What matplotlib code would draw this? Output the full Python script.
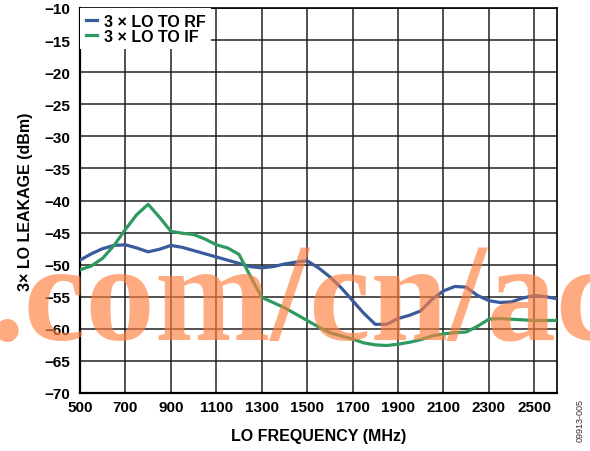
import matplotlib.pyplot as plt

# LO frequency (MHz), read every 50 MHz
freq = [500, 550, 600, 650, 700, 750, 800, 850, 900, 950, 1000, 1050, 1100, 1150,
        1200, 1250, 1300, 1350, 1400, 1450, 1500, 1550, 1600, 1650, 1700, 1750,
        1800, 1850, 1900, 1950, 2000, 2050, 2100, 2150, 2200, 2250, 2300, 2350,
        2400, 2450, 2500, 2550, 2600]

lo_to_rf = [-49.3, -48.3, -47.5, -47.0, -46.9, -47.4, -48.0, -47.6, -47.0, -47.3,
            -47.8, -48.3, -48.8, -49.3, -49.8, -50.3, -50.5, -50.3, -49.9, -49.6,
            -49.4, -50.5, -51.9, -53.6, -55.6, -57.6, -59.3, -59.3, -58.4, -57.9,
            -57.2, -55.4, -54.1, -53.4, -53.5, -54.8, -55.6, -55.9, -55.8, -55.2,
            -54.8, -55.0, -55.3]

lo_to_if = [-50.8, -50.2, -49.0, -47.0, -44.5, -42.2, -40.6, -42.6, -44.8, -45.1,
            -45.3, -46.0, -46.9, -47.4, -48.4, -51.8, -55.1, -55.9, -56.7, -57.7,
            -58.7, -59.7, -60.6, -61.1, -61.6, -62.2, -62.5, -62.6, -62.4, -62.1,
            -61.7, -61.1, -60.8, -60.6, -60.5, -59.6, -58.5, -58.4, -58.5, -58.6,
            -58.7, -58.7, -58.7]

xticks = [500, 700, 900, 1100, 1300, 1500, 1700, 1900, 2100, 2300, 2500]
yticks = list(range(-70, -5, 5))

plt.rcParams['font.family'] = ['Liberation Sans', 'DejaVu Sans']

fig = plt.figure(figsize=(5.9, 4.52), dpi=100)
ax = fig.add_axes([80 / 590, 1 - 394 / 452, 477 / 590, 385 / 452])

ax.plot(freq, lo_to_rf, color='#3a5b9b', lw=2.3, label='3 × LO TO RF', zorder=3)
ax.plot(freq, lo_to_if, color='#2f9a5f', lw=2.3, label='3 × LO TO IF', zorder=3)

ax.set_xlim(500, 2600)
ax.set_ylim(-70, -10)
ax.set_xticks(xticks)
ax.set_yticks(yticks)
ax.grid(True, color='#222222', lw=1.1)
ax.set_axisbelow(True)
ax.tick_params(length=0, labelsize=11)
ax.tick_params(axis='y', pad=7)
ax.tick_params(axis='x', pad=5)
for lbl in ax.get_xticklabels() + ax.get_yticklabels():
    lbl.set_fontweight('bold')
for side in ['left', 'bottom']:
    ax.spines[side].set_linewidth(1.6)
for side in ['top', 'right']:
    ax.spines[side].set_linewidth(1.2)

ax.set_xlabel('LO FREQUENCY (MHz)', fontsize=11.5, fontweight='bold', labelpad=10)
ax.set_ylabel('3× LO LEAKAGE (dBm)', fontsize=11.5, fontweight='bold', labelpad=8)

leg = ax.legend(loc='upper left', bbox_to_anchor=(0, 1), borderaxespad=0,
                handlelength=0.7, handletextpad=0.45, labelspacing=0.0,
                borderpad=0.35, frameon=True, fancybox=False, framealpha=1,
                edgecolor='none', prop={'weight': 'bold', 'size': 11.5})
leg.set_zorder(4)

fig.text(0.983, 0.07, '09913-005', rotation=90, fontsize=6.5, color='#333333',
         ha='center', va='center')

# watermark over the plot
fig.text(-0.017, 0.248, '.com/cn/ac', fontsize=100, fontweight='bold',
         family='Liberation Serif', color='#ff7f40', alpha=0.65,
         ha='left', va='baseline', zorder=10)

fig.savefig('out.png', dpi=100)
